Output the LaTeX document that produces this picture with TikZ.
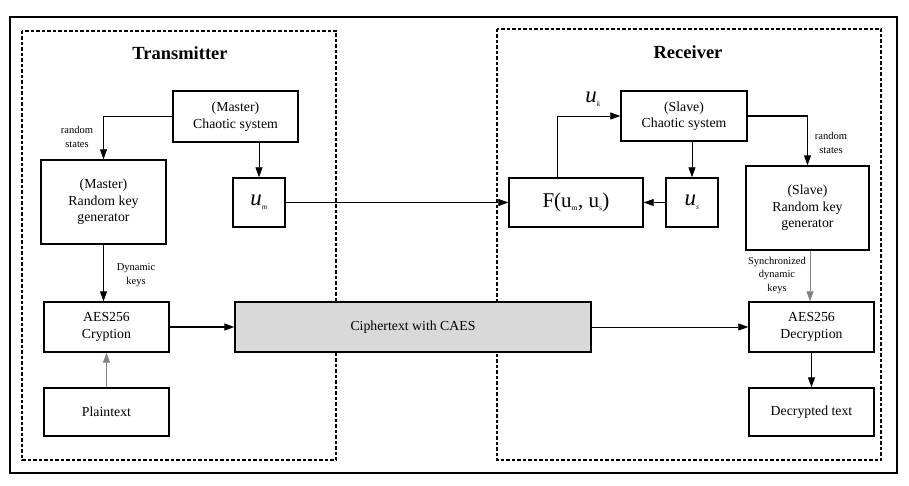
\documentclass[tikz,border=0pt]{standalone}
\usepackage{fontspec}
\setmainfont{Liberation Serif}
\usetikzlibrary{arrows.meta,calc,positioning}
\definecolor{cipherfill}{RGB}{217,217,217}
\definecolor{lightline}{RGB}{130,130,130}

\begin{document}
\begin{tikzpicture}[x=1pt,y=-1pt,>={Triangle[length=10pt,width=7pt]},
  box/.style={draw,line width=1.4pt,align=center,inner sep=0pt,
    font=\fontsize{13.8}{16.5}\selectfont},
  small/.style={align=center,font=\fontsize{10.5}{13.5}\selectfont},
  title/.style={font=\fontsize{18.5}{20}\selectfont\bfseries},
  region/.style={line width=2.6pt,dash pattern=on 3.5pt off 2pt},
  link/.style={->,line width=.7pt},
  biglink/.style={->,line width=1.2pt}]
\useasboundingbox (0,0) rectangle (909,486);
\draw[line width=2.6pt] (10,17) rectangle (897,473);
\draw[region] (22,31) rectangle (336,460);
\draw[region] (497,29) rectangle (881,460);
\node[title] (ttx) at (180,53) {Transmitter};
\node[title] (trx) at (688,52) {Receiver};
% transmitter side
\node[box,minimum width=125pt,minimum height=51pt] (mcs) at (235.5,116.5) {(Master)\\Chaotic system};
\node[box,minimum width=125pt,minimum height=84pt] (mrkg) at (103.5,202) {(Master)\\Random key\\generator};
\node[box,minimum width=52pt,minimum height=49pt,font=\fontsize{23}{24}\selectfont] (um) at (259,202.5) {\textit{u}\textsubscript{\fontsize{7.5}{7.5}\selectfont\textit{m}}};
\node[box,minimum width=125pt,minimum height=50pt] (aes) at (106.5,327) {AES256\\Cryption};
\node[box,minimum width=125pt,minimum height=48pt] (plain) at (106.5,412) {Plaintext};
\node[box,minimum width=356pt,minimum height=50pt,fill=cipherfill] (cipher) at (413,327) {Ciphertext with CAES};
% receiver side
\node[box,minimum width=126pt,minimum height=50pt] (scs) at (684,116) {(Slave)\\Chaotic system};
\node[box,minimum width=134pt,minimum height=49pt,font=\fontsize{21}{24}\selectfont] (F) at (576,202.5) {F(u\textsubscript{\fontsize{7.5}{7.5}\selectfont m}, u\textsubscript{\fontsize{7.5}{7.5}\selectfont s})};
\node[box,minimum width=52pt,minimum height=49pt,font=\fontsize{23}{24}\selectfont] (us) at (692,202.5) {\textit{u}\textsubscript{\fontsize{7.5}{7.5}\selectfont\textit{s}}};
\node[box,minimum width=123pt,minimum height=84pt] (srkg) at (807.5,208) {(Slave)\\Random key\\generator};
\node[box,minimum width=125pt,minimum height=50pt] (dec) at (811.5,327) {AES256\\Decryption};
\node[box,minimum width=125pt,minimum height=48pt] (dtext) at (811.5,412) {Decrypted text};
% connectors
\draw[link] (mcs.west) -| (mrkg.north);
\node[small] (lrs) at (77,137) {random\\states};
\draw[link] (mcs.south -| um.north) -- (um.north);
\draw[biglink] (mrkg.south) -- (mrkg.south |- aes.north);
\node[small] (ldk) at (136,275) {Dynamic\\keys};
\draw[link,lightline] (plain.north) -- (aes.south);
\draw[biglink] (aes.east) -- (cipher.west);
\draw[link] (cipher.east) -- (dec.west);
\draw[link] (um.east) -- (um.east -| F.west);
\draw[link] (us.west) -- (F.east);
\draw[link] ([xshift=-19pt]F.north) |- (scs.west);
\node[font=\fontsize{23}{24}\selectfont] (uk) at (593,99) {\textit{u}\textsubscript{\fontsize{7.5}{7.5}\selectfont\textit{k}}};
\draw[link] (scs.south -| us.north) -- (us.north);
\draw[biglink] (scs.east) -| (srkg.north);
\node[small] (rrs) at (831,143) {random\\states};
\draw[link,lightline] ([xshift=2.5pt]srkg.south) -- ([xshift=2.5pt]srkg.south |- dec.north);
\node[small] (lsk) at (777,275) {Synchronized\\dynamic\\keys};
\draw[biglink] (dec.south) -- (dtext.north);
\end{tikzpicture}
\end{document}
